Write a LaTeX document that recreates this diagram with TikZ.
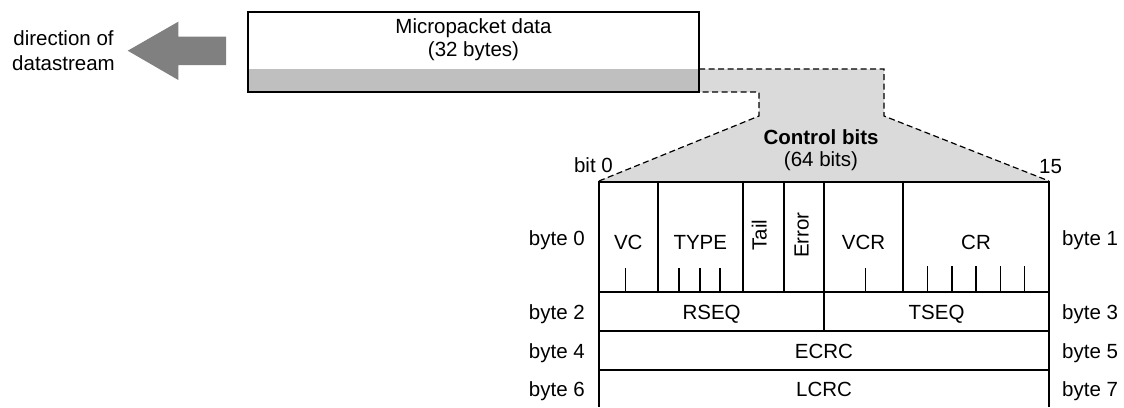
\documentclass[tikz,border=0pt]{standalone}
\usepackage{fontspec}
\setmainfont{Liberation Sans}
\definecolor{arrowgray}{RGB}{128,128,128}
\definecolor{bandgray}{RGB}{191,191,191}
\definecolor{funnelgray}{RGB}{218,218,218}
\begin{document}
\begin{tikzpicture}[x=1pt,y=-1pt,
  lbl/.style={inner sep=0pt, anchor=base, font=\fontsize{20.5}{24}\selectfont},
  lbll/.style={lbl, anchor=base east},
  lblr/.style={lbl, anchor=base west},
  vlbl/.style={lbl, rotate=90},
  outerline/.style={line width=2.4pt},
  innerline/.style={line width=1.8pt},
  tickline/.style={line width=1.2pt},
  funnelline/.style={dash pattern=on 6pt off 3.5pt, line width=1.2pt},
]
\useasboundingbox (0,0) rectangle (1124,407);

% direction of the datastream
\fill[arrowgray] (127.7,50.7) -- (178.3,21.7) -- (178.3,36.7) -- (226,36.7)
  -- (226,65) -- (178.3,65) -- (178.3,80) -- cycle;
\node[lbl] (dir1) at (63.5,45) {direction of};
\node[lbl] (dir2) at (63.5,70) {datastream};

% expansion of the control bits
\coordinate (fA) at (699,69);
\coordinate (fB) at (884,69);
\coordinate (fC) at (884,116);
\coordinate (fD) at (1049,181);
\coordinate (fE) at (599,181);
\coordinate (fF) at (759,116);
\coordinate (fG) at (759,92);
\coordinate (fH) at (699,92);
\fill[funnelgray] (fA) -- (fB) -- (fC) -- (fD) -- (fE) -- (fF) -- (fG) -- (fH) -- cycle;
\draw[funnelline] (fA) -- (fB) -- (fC) -- (fD);
\draw[funnelline] (fE) -- (fF) -- (fG) -- (fH);
\node[lbl, font=\fontsize{20.5}{24}\selectfont\bfseries] (ctl) at (821,144.5) {Control bits};
\node[lbl] (ctlsize) at (821,166) {(64 bits)};
\node[lbll] (bit0) at (613,172.5) {bit 0};
\node[lbl] (bit15) at (1050.5,173) {15};

% micropacket
\fill[bandgray] (248,69) rectangle (699,92);
\draw[line width=1.3pt] (248,12) rectangle (699,92);
\node[lbl] (mp1) at (473.5,33) {Micropacket data};
\node[lbl] (mp2) at (473.5,56.5) {(32 bytes)};

% control word table: row separators
\draw[innerline] (599,292) -- (1049,292);
\draw[innerline] (599,331) -- (1049,331);
\draw[innerline] (599,370) -- (1049,370);
% field boundaries
\foreach \x in {657.7,743,783.7,824.3,902.7}
  \draw[innerline] (\x,182) -- (\x,292);
\draw[innerline] (824.3,292) -- (824.3,331);
% bit ticks
\foreach \x in {625.7,679,700,720,865.7}
  \draw[tickline] (\x,268) -- (\x,292);
\foreach \x in {927.7,952,976,1000.3,1024.7}
  \draw[tickline] (\x,266) -- (\x,292);
% frame
\draw[outerline] (599,407) -- (599,182) -- (1049,182) -- (1049,407);

% field names
\node[lbl] (vc) at (628.3,249) {VC};
\node[lbl] (type) at (700.3,249) {TYPE};
\node[vlbl] (tail) at (766.5,235) {Tail};
\node[vlbl] (err) at (808.5,235) {Error};
\node[lbl] (vcr) at (863.5,249) {VCR};
\node[lbl] (cr) at (976,249) {CR};
\node[lbl] (rseq) at (711.6,319) {RSEQ};
\node[lbl] (tseq) at (936.6,319) {TSEQ};
\node[lbl] (ecrc) at (824,358) {ECRC};
\node[lbl] (lcrc) at (824,396.5) {LCRC};

% byte numbers
\node[lbll] (b0) at (585,245) {byte 0};
\node[lbll] (b2) at (585,319) {byte 2};
\node[lbll] (b4) at (585,358) {byte 4};
\node[lbll] (b6) at (585,396.5) {byte 6};
\node[lblr] (b1) at (1062,245) {byte 1};
\node[lblr] (b3) at (1062,319) {byte 3};
\node[lblr] (b5) at (1062,358) {byte 5};
\node[lblr] (b7) at (1062,396.5) {byte 7};
\end{tikzpicture}
\end{document}
